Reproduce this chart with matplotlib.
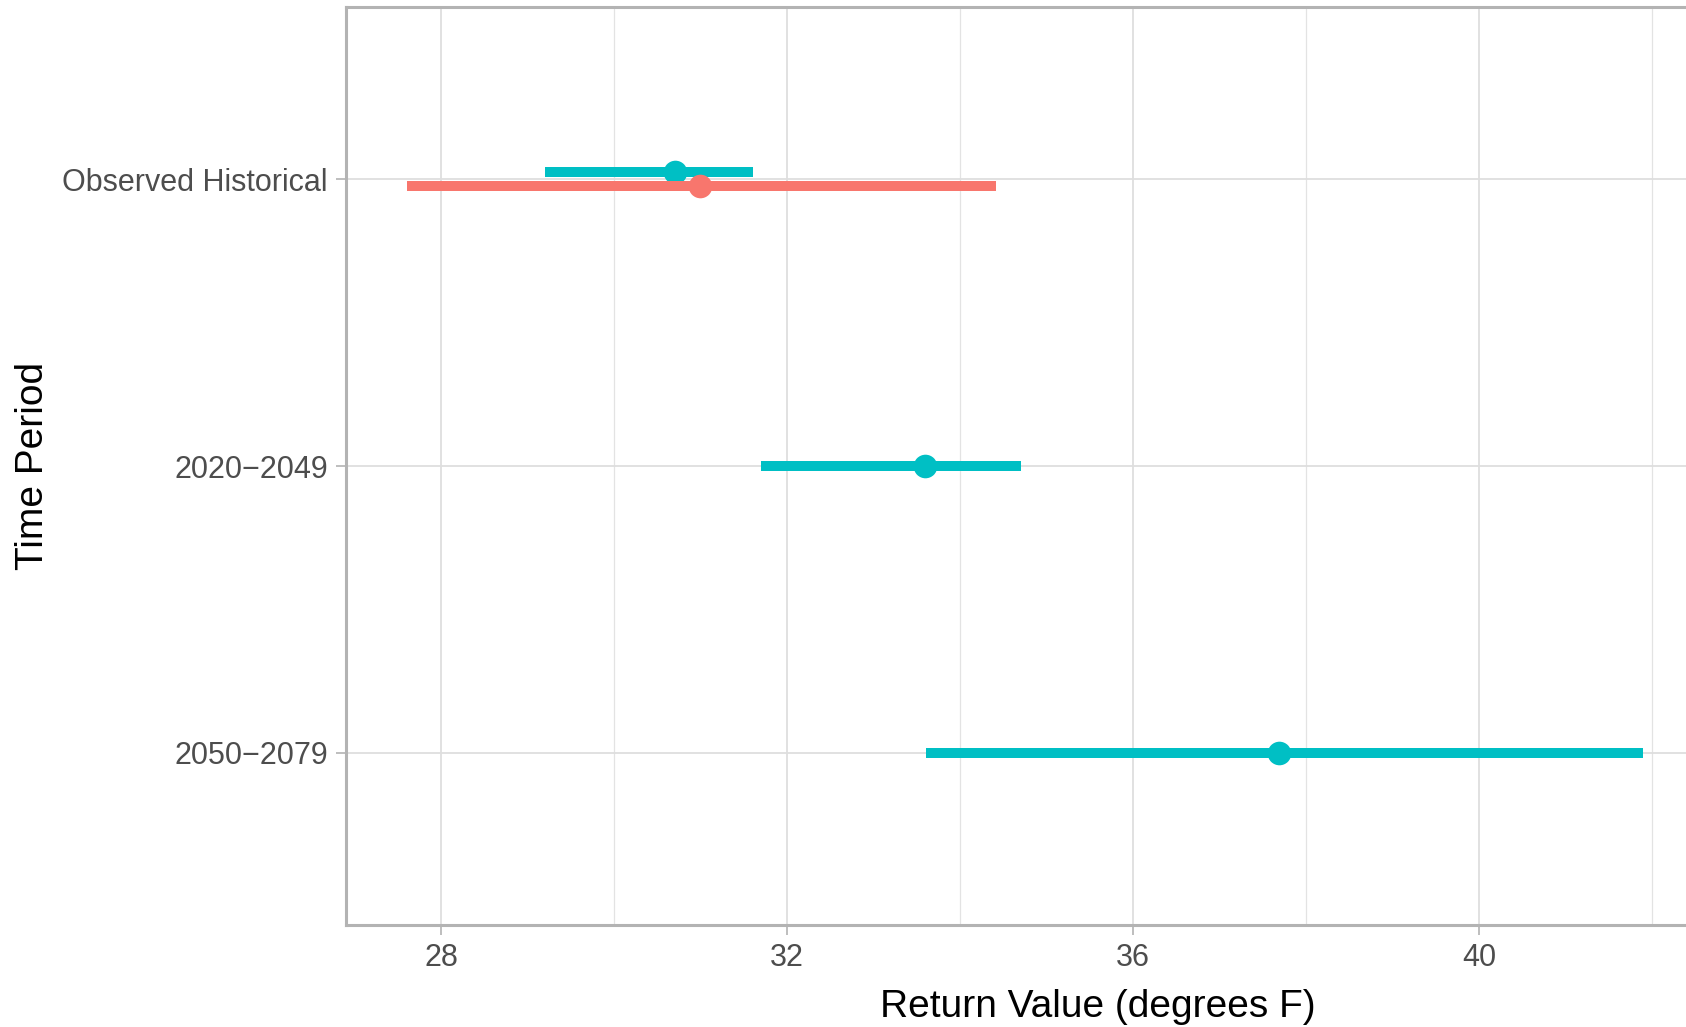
import matplotlib.pyplot as plt
from matplotlib.ticker import MultipleLocator

plt.rcParams['font.family'] = ['Liberation Sans', 'DejaVu Sans']

# periods, top to bottom
periods = ['Observed Historical', '2020\u22122049', '2050\u22122079']

# modelled return values (cyan)
model_low = [29.20, 31.70, 33.60]
model_mid = [30.70, 33.59, 37.69]
model_high = [31.61, 34.70, 41.89]

# observed return value (red), only for the historical period
obs_low = [27.60]
obs_mid = [30.99]
obs_high = [34.41]

cyan = '#00BFC4'
red = '#F8766D'
dodge = 0.025

fig = plt.figure(figsize=(16.86, 10.27), dpi=100)
ax = fig.add_axes([346 / 1686, 1 - 925 / 1027, 1 - 346 / 1686, (925 - 7) / 1027])

ypos = list(range(len(periods)))

# model series (dodged up)
for i in range(len(periods)):
    y = ypos[i] - dodge if i == 0 else ypos[i]
    ax.plot([model_low[i], model_high[i]], [y, y], color=cyan, lw=7.2,
            solid_capstyle='butt', zorder=3)
    ax.plot(model_mid[i], y, 'o', color=cyan, ms=17, mew=0, zorder=4)

# observed series (dodged down)
for i in range(len(obs_mid)):
    y = ypos[i] + dodge
    ax.plot([obs_low[i], obs_high[i]], [y, y], color=red, lw=7.2,
            solid_capstyle='butt', zorder=5)
    ax.plot(obs_mid[i], y, 'o', color=red, ms=17, mew=0, zorder=6)

ax.set_yticks(ypos)
ax.set_yticklabels(periods)
ax.set_ylim(len(periods) - 1 + 0.6, -0.6)
ax.set_xlim(26.90, 42.39)
ax.xaxis.set_major_locator(MultipleLocator(4))
ax.xaxis.set_minor_locator(MultipleLocator(2))

ax.grid(which='major', color='#dedede', lw=1.3, zorder=0)
ax.grid(which='minor', axis='x', color='#e3e3e3', lw=0.9, zorder=0)
ax.set_axisbelow(True)

for side in ['left', 'bottom', 'top']:
    ax.spines[side].set_color('#b3b3b3')
    ax.spines[side].set_linewidth(2.2)
ax.spines['right'].set_visible(False)

ax.tick_params(which='major', length=7, width=1.2, color='#b3b3b3',
               labelsize=22, labelcolor='#4d4d4d', pad=6)
ax.tick_params(which='minor', length=0)

ax.set_xlabel('Return Value (degrees F)', fontsize=28, color='black')
ax.set_ylabel('Time Period', fontsize=28, color='black')
ax.xaxis.set_label_coords((1098 - 346) / 1340, -0.07)
ax.yaxis.set_label_coords(-(346 - 51) / 1340, 0.5)

fig.savefig('out.png', dpi=100)
